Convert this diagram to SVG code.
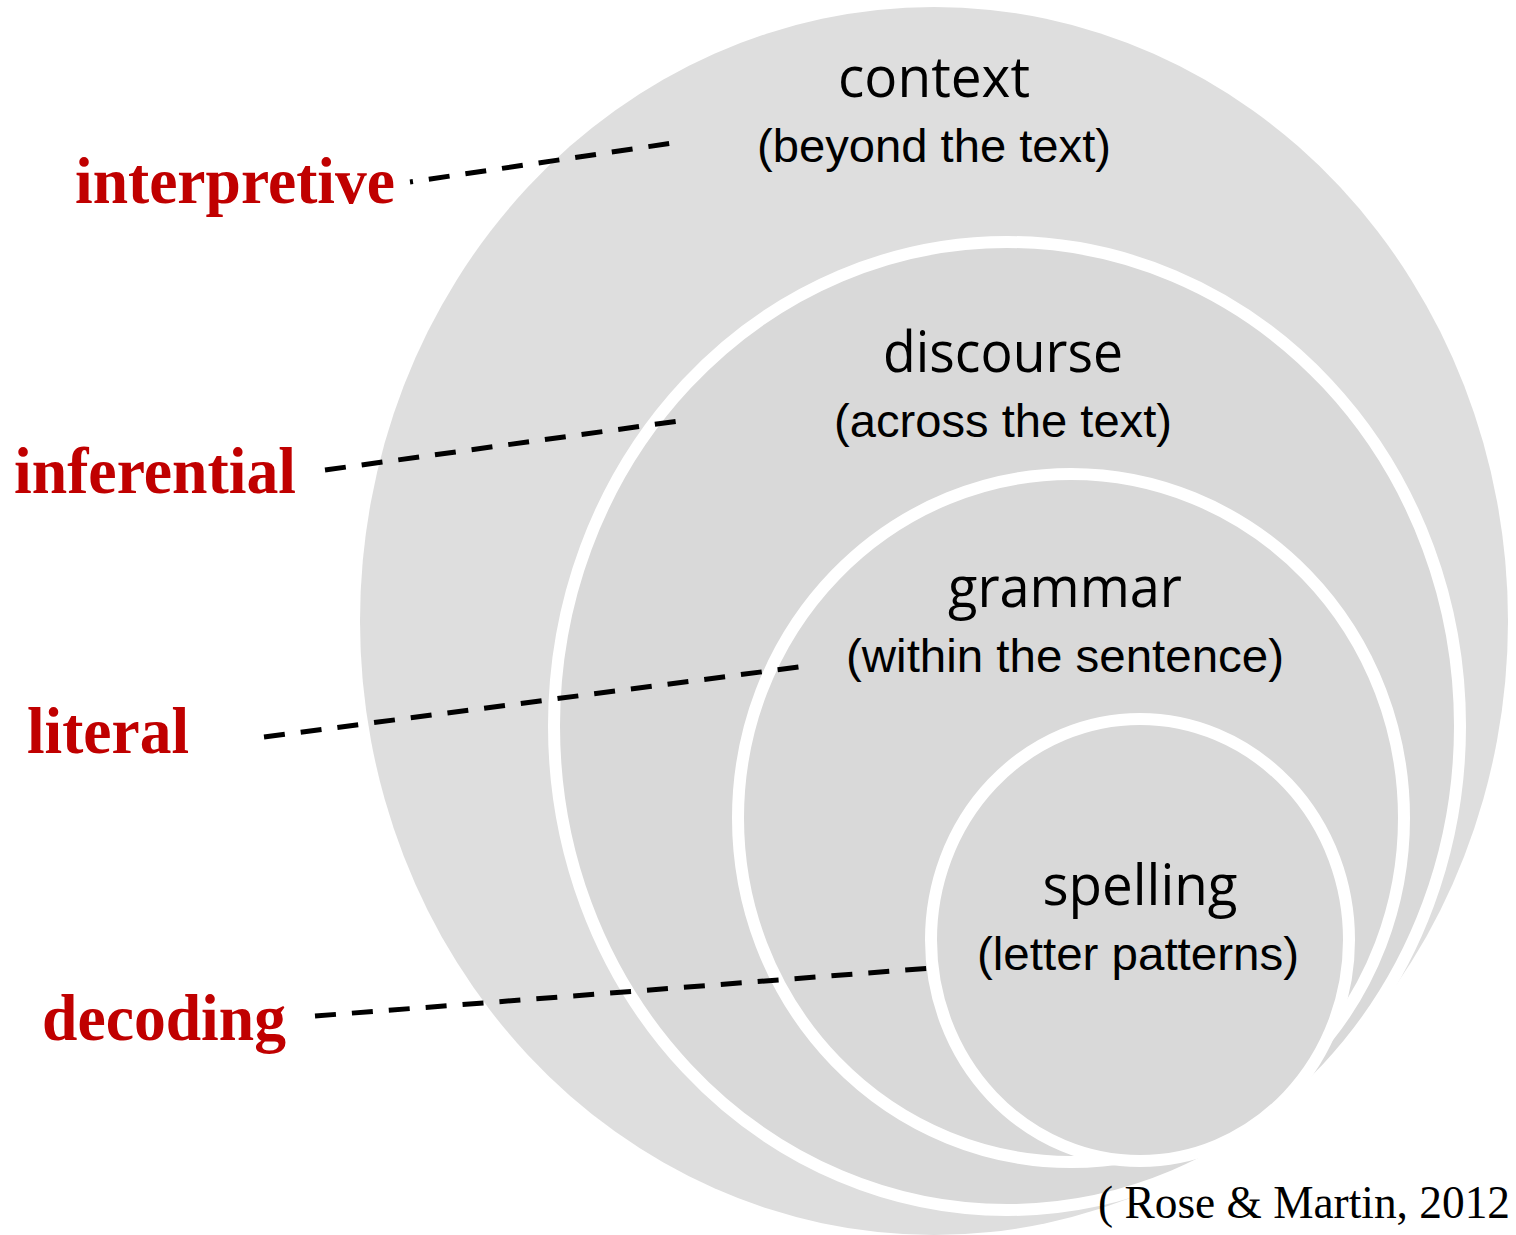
<svg xmlns="http://www.w3.org/2000/svg" width="1516" height="1235" viewBox="0 0 1516 1235">
<style>
.outer{fill:#dedede}
.ring{fill:#d9d9d9;stroke:#ffffff;stroke-width:12}
.title{font-family:"Open Sans","Lato","DejaVu Sans",sans-serif;font-size:56px;fill:#000;text-anchor:middle}
.sub{font-family:"Liberation Sans",Arial,sans-serif;font-size:47px;fill:#000;text-anchor:middle}
.lvl{font-family:"Liberation Serif","Times New Roman",serif;font-weight:bold;font-size:66px;fill:#c00000}
.dash{stroke:#000;stroke-width:5;stroke-dasharray:21 16;fill:none}
.cite{font-family:"Liberation Serif","Times New Roman",serif;font-size:46px;fill:#000}
</style>
<rect width="1516" height="1235" fill="#ffffff"/>
<g id="node-context">
<ellipse class="outer" cx="934" cy="621" rx="574" ry="614"/>
<text class="title" x="934" y="97" textLength="192" lengthAdjust="spacingAndGlyphs">context</text>
<text class="sub" x="934" y="162" textLength="354" lengthAdjust="spacingAndGlyphs">(beyond the text)</text>
</g>
<g id="node-discourse">
<ellipse class="ring" cx="1007" cy="726" rx="453" ry="484"/>
<text class="title" x="1003" y="372" textLength="240" lengthAdjust="spacingAndGlyphs">discourse</text>
<text class="sub" x="1003" y="437" textLength="338" lengthAdjust="spacingAndGlyphs">(across the text)</text>
</g>
<g id="node-grammar">
<ellipse class="ring" cx="1071" cy="818" rx="333" ry="344"/>
<text class="title" x="1065" y="607" textLength="234" lengthAdjust="spacingAndGlyphs">grammar</text>
<text class="sub" x="1065" y="672" textLength="438" lengthAdjust="spacingAndGlyphs">(within the sentence)</text>
</g>
<g id="node-spelling">
<ellipse class="ring" cx="1140" cy="940" rx="209" ry="221"/>
<text class="title" x="1140" y="905" textLength="195" lengthAdjust="spacingAndGlyphs">spelling</text>
<text class="sub" x="1138" y="970" textLength="322" lengthAdjust="spacingAndGlyphs">(letter patterns)</text>
</g>
<g id="connectors">
<line class="dash" x1="410" y1="182" x2="673" y2="143" stroke-dashoffset="18"/>
<line class="dash" x1="325" y1="470" x2="679" y2="421"/>
<line class="dash" x1="264" y1="737" x2="799" y2="667"/>
<line class="dash" x1="315" y1="1016" x2="932" y2="968"/>
</g>
<g id="label-interpretive"><text class="lvl" x="75" y="203" textLength="320" lengthAdjust="spacingAndGlyphs">interpretive</text></g>
<g id="label-inferential"><text class="lvl" x="14" y="493" textLength="282" lengthAdjust="spacingAndGlyphs">inferential</text></g>
<g id="label-literal"><text class="lvl" x="27" y="753" textLength="162" lengthAdjust="spacingAndGlyphs">literal</text></g>
<g id="label-decoding"><text class="lvl" x="42" y="1040" textLength="244" lengthAdjust="spacingAndGlyphs">decoding</text></g>
<g id="citation"><text class="cite" x="1098" y="1218" textLength="412" lengthAdjust="spacingAndGlyphs">( Rose &amp; Martin, 2012</text></g>
</svg>
